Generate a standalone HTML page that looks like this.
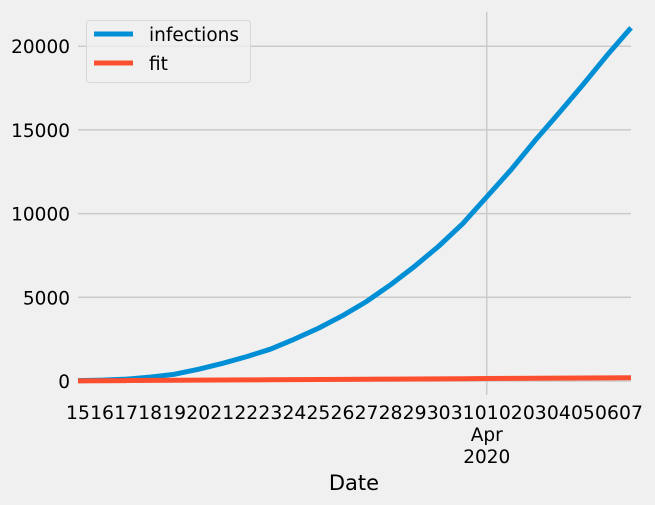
<!DOCTYPE html>
<html><head><meta charset="utf-8"><style>
html,body{margin:0;padding:0;background:#f0f0f0;}
svg{display:block;font-family:"DejaVu Sans","Liberation Sans",sans-serif;}
</style></head><body>
<svg id="chart" width="655" height="505" viewBox="0 0 655 505">
<rect width="655" height="505" fill="#f0f0f0"/>
<g id="grid"></g><g id="series"></g><g id="labels"></g>
<text x="354" y="490" font-size="21" text-anchor="middle" fill="#000">Date</text>
<g>
<rect x="86.5" y="20.5" width="164" height="62" rx="3" fill="#f0f0f0" fill-opacity="0.8" stroke="#d8d8d8"/>
<line x1="94" y1="34" x2="133" y2="34" stroke="#008fd5" stroke-width="5"/>
<text x="149" y="41" font-size="18.5">infections</text>
<line x1="94" y1="63" x2="133" y2="63" stroke="#fc4f30" stroke-width="5"/>
<text x="149" y="70" font-size="18.5">fit</text>
</g>
</svg>
<script>
const days = ["15","16","17","18","19","20","21","22","23","24","25","26","27","28","29","30","31","01","02","03","04","05","06","07"];
const infections = [20,50,110,230,400,700,1050,1450,1900,2500,3150,3900,4750,5750,6850,8050,9400,11000,12600,14350,16000,17700,19450,21100];
const fit = [10,18,26,34,42,50,58,66,74,82,90,98,106,114,122,130,138,146,154,162,170,178,186,194];
const yTicks = [0,5000,10000,15000,20000];
const NS="http://www.w3.org/2000/svg";
const x0=78,x1=631,yZero=381,pxPerUnit=83.7/5000;
function xs(i){return x0+i*(x1-x0)/(days.length-1);}
function ys(v){return yZero-v*pxPerUnit;}
function mk(tag,attrs,parent){const e=document.createElementNS(NS,tag);for(const k in attrs)e.setAttribute(k,attrs[k]);parent.appendChild(e);return e;}
const grid=document.getElementById('grid'),series=document.getElementById('series'),labels=document.getElementById('labels');
yTicks.forEach(t=>{
  const l=mk('line',{x1:x0,x2:x1,y1:ys(t),y2:ys(t),stroke:'#cbcbcb','stroke-width':1.5},grid);
  
  
  const tx=mk('text',{x:70,y:ys(t)+7,'font-size':18.5,'text-anchor':'end'},labels);
  tx.textContent=String(t);
  
  
});
const aprIdx=days.indexOf("01");
const vg=mk('line',{x1:xs(aprIdx),x2:xs(aprIdx),y1:12,y2:395,stroke:'#cbcbcb','stroke-width':1.5},grid);


days.forEach((d,i)=>{
  const tx=mk('text',{x:xs(i),y:419,'font-size':18.8,'text-anchor':'middle'},labels);
  tx.textContent=d;
  
  
});
const a=mk('text',{x:xs(aprIdx),y:441,'font-size':18.5,'text-anchor':'middle'},labels);a.textContent="Apr";


const yr=mk('text',{x:xs(aprIdx),y:463,'font-size':18.5,'text-anchor':'middle'},labels);yr.textContent="2020";


function line(vals,color,name){
  const p=mk('polyline',{points:vals.map((v,i)=>xs(i)+','+ys(v)).join(' '),fill:'none',stroke:color,'stroke-width':5,'stroke-linejoin':'round'},series);
  
  
}
line(infections,'#008fd5','infections-line');
line(fit,'#fc4f30','fit-line');
</script>
</body></html>
